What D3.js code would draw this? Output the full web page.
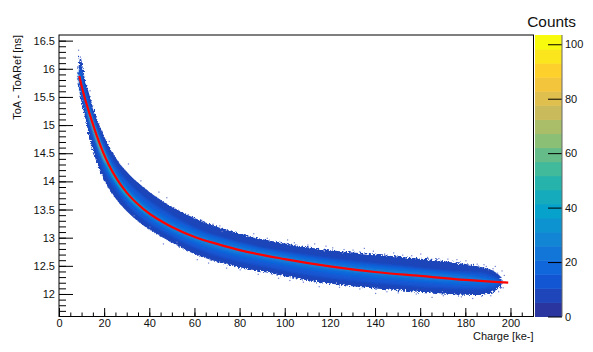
<!DOCTYPE html>
<html>
<head>
<meta charset="utf-8">
<script src="https://cdn.jsdelivr.net/npm/d3@7/dist/d3.min.js"></script>
<style>
  html, body { margin: 0; padding: 0; background: #fff; }
  svg { display: block; }
  text { font-family: "Liberation Sans", Helvetica, Arial, sans-serif; fill: #111; }
</style>
</head>
<body>
<div id="chart"></div>
<script>
// Band contours, all on the same charge knots
var knots = [8.6, 9.5, 11, 13, 16, 20, 25, 30, 38, 48, 60, 75, 92, 107, 129, 151, 173, 186, 192, 196]

var up6 = [16.0, 16.2, 15.9, 15.6, 15.2, 14.8, 14.43, 14.17, 13.88, 13.6, 13.35, 13.13, 12.96, 12.85, 12.74, 12.66, 12.57, 12.49, 12.42, 12.3]
var lo6 = [15.75, 15.5, 15.25, 14.87, 14.42, 14.02, 13.7, 13.47, 13.2, 12.96, 12.71, 12.52, 12.38, 12.26, 12.14, 12.06, 12.0, 11.98, 12.03, 12.14]
var up11 = [15.85, 16.04, 15.76, 15.47, 15.08, 14.67, 14.29, 14.02, 13.72, 13.45, 13.18, 12.97, 12.81, 12.71, 12.59, 12.5, 12.41, 12.38, 12.32, 12.24]
var lo11 = [15.85, 15.6, 15.35, 15.01, 14.6, 14.18, 13.85, 13.59, 13.3, 13.06, 12.82, 12.62, 12.48, 12.36, 12.24, 12.16, 12.1, 12.08, 12.1, 12.19]
var up16 = [15.85, 15.95, 15.68, 15.39, 15.02, 14.6, 14.21, 13.94, 13.64, 13.37, 13.14, 12.95, 12.79, 12.68, 12.55, 12.47, 12.38, 12.32, 12.27, 12.22]
var lo16 = [15.85, 15.68, 15.42, 15.1, 14.7, 14.26, 13.92, 13.66, 13.37, 13.12, 12.89, 12.7, 12.56, 12.45, 12.32, 12.24, 12.17, 12.14, 12.16, 12.2]
var up21 = [15.85, 15.88, 15.62, 15.33, 14.96, 14.54, 14.15, 13.87, 13.57, 13.3, 13.08, 12.89, 12.74, 12.63, 12.5, 12.42, 12.34, 12.29, 12.25, 12.21]
var lo21 = [15.85, 15.72, 15.48, 15.19, 14.8, 14.37, 14.0, 13.72, 13.42, 13.16, 12.94, 12.75, 12.61, 12.5, 12.38, 12.29, 12.22, 12.2, 12.2, 12.21]

// the brighter ridge only exists over part of the range, so it has its own knots
var ridgeKnots = [11, 13, 16, 20, 25, 30, 38, 48, 60, 75, 92, 107, 129, 151, 173]
var up30 = [15.58, 15.3, 14.9, 14.48, 14.09, 13.82, 13.52, 13.26, 13.04, 12.85, 12.7, 12.59, 12.46, 12.37, 12.29]
var lo30 = [15.52, 15.22, 14.82, 14.4, 14.03, 13.76, 13.46, 13.2, 12.98, 12.79, 12.65, 12.54, 12.41, 12.33, 12.28]

var hotKnots = [12.5, 15, 18, 22, 27, 33, 40]
var up45 = [15.36, 15.06, 14.72, 14.35, 13.99, 13.7, 13.44]
var lo45 = [15.3, 14.94, 14.58, 14.2, 13.88, 13.62, 13.4]

var peakKnots = [13, 15, 18, 21]
var up58 = [15.24, 15.03, 14.68, 14.4]
var lo58 = [15.2, 14.93, 14.56, 14.3]

// isolated cells outside the band
var strayCharge = [8.4, 9.2, 13.5, 22, 30.5, 36, 44, 47.5, 57, 63, 68, 71, 72, 86, 92, 101, 110, 118, 126, 135, 148, 160, 176, 188, 193, 196, 191, 183, 165, 140, 115, 97, 80, 61, 46, 33, 195.5, 190,
  104, 113, 121, 130, 133, 139, 144, 152, 156, 163, 168, 172, 180, 185, 189, 192, 194, 197, 197.5, 196.5, 194.5, 187, 178, 170, 158, 150, 145, 133, 124, 108, 102, 88, 74, 66, 52, 40]
var strayToa = [16.34, 16.22, 15.62, 14.72, 14.32, 14.02, 13.82, 13.72, 13.42, 13.32, 13.25, 13.22, 13.12, 13.08, 13.0, 12.97, 12.88, 12.86, 12.8, 12.82, 12.74, 12.72, 12.62, 12.53, 12.5, 12.42, 11.98, 11.93, 11.95, 12.02, 12.14, 12.29, 12.44, 12.62, 12.9, 13.4, 12.12, 12.44,
  12.92, 12.9, 12.83, 12.79, 12.76, 12.77, 12.72, 12.7, 12.69, 12.66, 12.64, 12.63, 12.6, 12.54, 12.5, 12.46, 12.38, 12.34, 12.22, 12.12, 12.05, 11.97, 11.96, 11.98, 12.01, 12.03, 12.05, 12.1, 12.13, 12.22, 12.25, 12.36, 12.47, 12.56, 12.93, 13.2]

// Fit curve
var fitCharge = [9, 10, 11.5, 13, 15, 17, 19.5, 22, 25.8, 30, 37.7, 43.3, 50, 61, 70, 80, 100, 120, 140, 160, 180, 199]
var fitToa = [15.87, 15.7, 15.47, 15.27, 15.02, 14.78, 14.52, 14.3, 14.03, 13.8, 13.5, 13.34, 13.19, 13.0, 12.89, 12.78, 12.62, 12.49, 12.39, 12.32, 12.25, 12.2]

// Tick labels
var xTicks = [0, 20, 40, 60, 80, 100, 120, 140, 160, 180, 200]
var yTicks = [12, 12.5, 13, 13.5, 14, 14.5, 15, 15.5, 16, 16.5]
var zTicks = [0, 20, 40, 60, 80, 100]

// ROOT kBird palette stops, bottom one as it shows in the picture
var birdStops = ["#2b35a0", "#0f5cdd", "#1481d6", "#06a4ca", "#2eb7a4", "#87bf77", "#d1bb59", "#fec832", "#f9fb0e"]

var dimensions = {
  "width": 593,
  "height": 352,
  "left": 59,
  "right": 533.5,
  "top": 35,
  "bottom": 316.5,
  "bar_left": 535,
  "bar_right": 562
}
var d = dimensions

var x = d3.scaleLinear().domain([0, 210.2]).range([d.left, d.right])
var y = d3.scaleLinear().domain([11.6, 16.6]).range([d.bottom, d.top])
var z = d3.scaleLinear().domain([0, 103.4]).range([d.bottom, d.top])

var bird = d3.scaleLinear()
  .domain(birdStops.map(function (c, i) { return i / (birdStops.length - 1) }))
  .range(birdStops)
  .interpolate(d3.interpolateRgb)

// 20 contour levels, same as the palette bands
var n_levels = 20
var levelColor = function (count) {
  var band = Math.min(n_levels - 1, Math.floor(count / (103.4 / n_levels)))
  return bird(band / (n_levels - 1))
}

var svg = d3.select("#chart").append("svg")
  .attr("width", d.width)
  .attr("height", d.height)

var defs = svg.append("defs")
var rough = defs.append("filter")
  .attr("id", "rough")
  .attr("x", "-5%").attr("y", "-5%")
  .attr("width", "110%").attr("height", "110%")
rough.append("feTurbulence")
  .attr("type", "fractalNoise")
  .attr("baseFrequency", 0.55)
  .attr("numOctaves", 2)
  .attr("seed", 4)
  .attr("result", "noise")
rough.append("feDisplacementMap")
  .attr("in", "SourceGraphic")
  .attr("in2", "noise")
  .attr("scale", 7)

defs.append("filter")
  .attr("id", "soft")
  .attr("x", "-5%").attr("y", "-5%")
  .attr("width", "110%").attr("height", "110%")
  .append("feGaussianBlur")
    .attr("stdDeviation", 1)

var area = d3.area()
  .x(function (p) { return x(p[0]) })
  .y0(function (p) { return y(p[1]) })
  .y1(function (p) { return y(p[2]) })
  .curve(d3.curveMonotoneX)

function drawLayer(parent, charges, upper, lower, count) {
  parent.append("path")
    .attr("d", area(charges.map(function (q, i) { return [q, lower[i], upper[i]] })))
    .attr("fill", levelColor(count))
}

var outer_g = svg.append("g").attr("class", "band outer").attr("filter", "url(#rough)")
drawLayer(outer_g, knots, up6, lo6, 6)

var inner_g = svg.append("g").attr("class", "band inner").attr("filter", "url(#soft)")
drawLayer(inner_g, knots, up11, lo11, 11)
drawLayer(inner_g, knots, up16, lo16, 16)
drawLayer(inner_g, knots, up21, lo21, 21)
drawLayer(inner_g, ridgeKnots, up30, lo30, 30)
drawLayer(inner_g, hotKnots, up45, lo45, 45)
drawLayer(inner_g, peakKnots, up58, lo58, 58)

svg.append("g").attr("class", "stray")
  .selectAll("rect")
  .data(strayCharge)
  .enter().append("rect")
    .attr("x", function (q) { return x(q) })
    .attr("y", function (q, i) { return y(strayToa[i]) })
    .attr("width", 1.2)
    .attr("height", 1.2)
    .attr("fill", "#6f7ed0")

var fitLine = d3.line()
  .x(function (q) { return x(q) })
  .y(function (q, i) { return y(fitToa[i]) })
  .curve(d3.curveMonotoneX)

svg.append("path")
  .attr("class", "fit")
  .attr("d", fitLine(fitCharge))
  .attr("fill", "none")
  .attr("stroke", "#ff0000")
  .attr("stroke-width", 2.2)

// Palette
var bar_g = svg.append("g").attr("class", "palette")
bar_g.selectAll("rect")
  .data(d3.range(n_levels))
  .enter().append("rect")
    .attr("x", d.bar_left)
    .attr("width", d.bar_right - d.bar_left)
    .attr("y", function (i) { return z((i + 1) * 103.4 / n_levels) })
    .attr("height", function (i) { return z(i * 103.4 / n_levels) - z((i + 1) * 103.4 / n_levels) + 0.5 })
    .attr("fill", function (i) { return bird(i / (n_levels - 1)) })

// Axes, ticks point inwards like ROOT does
function styleAxis(g) {
  g.select(".domain").remove()
  g.selectAll("line").attr("stroke", "#000").attr("stroke-width", 1)
  g.selectAll("text").attr("font-size", 11).attr("fill", "#111")
    .attr("font-family", "'Liberation Sans', Helvetica, Arial, sans-serif")
}

svg.append("g")
  .attr("transform", "translate(0," + d.bottom + ")")
  .call(d3.axisBottom(x).tickValues(d3.range(0, 211, 5)).tickSize(-4).tickFormat(""))
  .call(styleAxis)

svg.append("g")
  .attr("transform", "translate(0," + d.bottom + ")")
  .call(d3.axisBottom(x).tickValues(xTicks).tickSizeInner(-8.5).tickSizeOuter(0).tickPadding(3))
  .call(styleAxis)

svg.append("g")
  .attr("transform", "translate(" + d.left + ",0)")
  .call(d3.axisLeft(y).tickValues(d3.range(117, 166).map(function (v) { return v / 10 })).tickSize(-7).tickFormat(""))
  .call(styleAxis)

svg.append("g")
  .attr("transform", "translate(" + d.left + ",0)")
  .call(d3.axisLeft(y).tickValues(yTicks).tickSizeInner(-14).tickSizeOuter(0).tickPadding(4).tickFormat(d3.format("~g")))
  .call(styleAxis)

svg.append("g")
  .attr("transform", "translate(" + d.bar_right + ",0)")
  .call(d3.axisRight(z).tickValues(zTicks).tickSizeInner(-14).tickSizeOuter(0).tickPadding(3))
  .call(styleAxis)

svg.append("rect")
  .attr("class", "frame")
  .attr("x", d.left).attr("y", d.top)
  .attr("width", d.right - d.left).attr("height", d.bottom - d.top)
  .attr("fill", "none").attr("stroke", "#000").attr("stroke-width", 1)

svg.append("line")
  .attr("x1", d.bar_right).attr("x2", d.bar_right)
  .attr("y1", d.top).attr("y2", d.bottom)
  .attr("stroke", "#666").attr("stroke-width", 1)

// Titles
svg.append("text")
  .attr("x", d.right)
  .attr("y", 340)
  .attr("text-anchor", "end")
  .attr("font-size", 11)
  .text("Charge [ke-]")

svg.append("text")
  .attr("transform", "translate(21," + d.top + ") rotate(-90)")
  .attr("text-anchor", "end")
  .attr("font-size", 11)
  .text("ToA - ToARef [ns]")

svg.append("text")
  .attr("x", 576)
  .attr("y", 27)
  .attr("text-anchor", "end")
  .attr("font-size", 15.4)
  .text("Counts")
</script>
</body>
</html>
